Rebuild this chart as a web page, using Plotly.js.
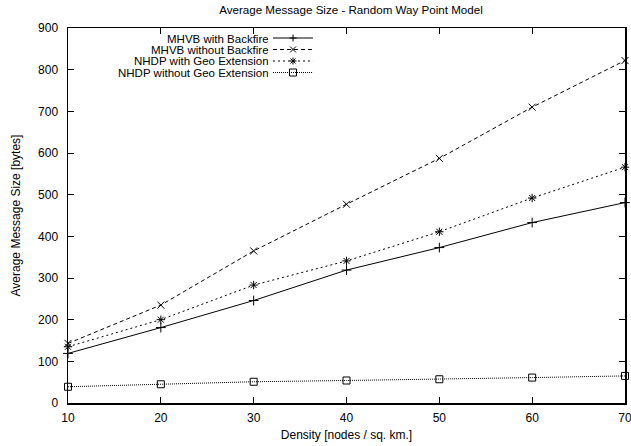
<!DOCTYPE html>
<html>
<head>
<meta charset="utf-8">
<script src="https://cdn.plot.ly/plotly-3.0.1.min.js"></script>
<style>html,body{margin:0;padding:0;background:#fff;}#chart{width:631px;height:446px;}</style>
</head>
<body>
<div id="chart"></div>
<script>
const density = [10, 20, 30, 40, 50, 60, 70];
const mhvbWithBackfire = [119, 181, 246, 319, 373, 433, 481];
const mhvbWithoutBackfire = [143, 235, 365, 477, 587, 710, 822];
const nhdpWithGeo = [135, 200, 283, 341, 411, 492, 566];
const nhdpWithoutGeo = [39, 45, 51, 54, 57, 61, 65];
const seriesNames = ["MHVB with Backfire", "MHVB without Backfire", "NHDP with Geo Extension", "NHDP without Geo Extension"];
const xTicks = [10, 20, 30, 40, 50, 60, 70];
const yTicks = [0, 100, 200, 300, 400, 500, 600, 700, 800, 900];

const FONT = "Liberation Sans, Arial, Helvetica, sans-serif";
const FS = 12;
const styles = [
  {dash: "solid", symbol: "cross-thin-open"},
  {dash: "4px,3px", symbol: "x-thin-open"},
  {dash: "2px,3px", symbol: "asterisk-open"},
  {dash: "1px,1px", symbol: "square-open"}
];
const series = [mhvbWithBackfire, mhvbWithoutBackfire, nhdpWithGeo, nhdpWithoutGeo];

const traces = series.map((vals, i) => ({
  x: density, y: vals, name: seriesNames[i], type: "scatter", mode: "lines+markers",
  line: {color: "#000", width: 1, dash: styles[i].dash},
  marker: {symbol: styles[i].symbol, size: 7, color: "#000", line: {color: "#000", width: 1}},
  showlegend: false, cliponaxis: false
}));

// Custom gnuplot-style key: text right-aligned, sample on the right
const keyTextX = 0.362, keyLineX0 = 0.368, keyLineX1 = 0.44, keyMarkX = 0.404;
const keyRowsY = [0.9733, 0.9427, 0.912, 0.8813];
const annotations = [];
const shapes = [];
seriesNames.forEach((nm, i) => {
  const y = keyRowsY[i];
  annotations.push({xref: "paper", yref: "paper", x: keyTextX, y: y, xanchor: "right", yanchor: "middle",
    text: nm, showarrow: false, font: {family: FONT, size: 11.5, color: "#000"}, borderpad: 0, height: 11});
  shapes.push({type: "line", xref: "paper", yref: "paper", x0: keyLineX0, x1: keyLineX1, y0: y, y1: y,
    line: {color: "#000", width: 1, dash: styles[i].dash}});
  const base = {xref: "paper", yref: "paper", xsizemode: "pixel", ysizemode: "pixel", xanchor: keyMarkX, yanchor: y,
    line: {color: "#000", width: 1}};
  if (i === 0) {
    shapes.push(Object.assign({type: "line", x0: -3.5, x1: 3.5, y0: 0, y1: 0}, base));
    shapes.push(Object.assign({type: "line", x0: 0, x1: 0, y0: -3.5, y1: 3.5}, base));
  } else if (i === 1) {
    shapes.push(Object.assign({type: "line", x0: -3, x1: 3, y0: -3, y1: 3}, base));
    shapes.push(Object.assign({type: "line", x0: -3, x1: 3, y0: 3, y1: -3}, base));
  } else if (i === 2) {
    shapes.push(Object.assign({type: "line", x0: -3.5, x1: 3.5, y0: 0, y1: 0}, base));
    shapes.push(Object.assign({type: "line", x0: 0, x1: 0, y0: -3.5, y1: 3.5}, base));
    shapes.push(Object.assign({type: "line", x0: -2.5, x1: 2.5, y0: -2.5, y1: 2.5}, base));
    shapes.push(Object.assign({type: "line", x0: -2.5, x1: 2.5, y0: 2.5, y1: -2.5}, base));
  } else {
    shapes.push(Object.assign({type: "rect", x0: -3.5, x1: 3.5, y0: -3.5, y1: 3.5, fillcolor: "rgba(0,0,0,0)"}, base));
  }
});

const axisCommon = {
  showline: true, linecolor: "#000", linewidth: 1.5, mirror: "allticks",
  ticks: "inside", ticklen: 6, tickwidth: 1, tickcolor: "#000",
  showgrid: false, zeroline: false, automargin: false, ticklabeloverflow: "allow",
  tickfont: {family: FONT, size: FS, color: "#000"}
};

const layout = {
  width: 631, height: 446,
  margin: {l: 68, r: 6, t: 28, b: 43},
  paper_bgcolor: "#fff", plot_bgcolor: "#fff",
  font: {family: FONT, size: FS, color: "#000"},
  title: {text: "Average Message Size - Random Way Point Model", font: {family: FONT, size: 11.6, color: "#000"},
    x: 0.508, xref: "paper", y: 0.978, yref: "container", xanchor: "center", yanchor: "middle"},
  xaxis: Object.assign({}, axisCommon, {range: [10, 70], tickvals: xTicks, ticktext: xTicks.map(String),
    ticklabelstandoff: 3,
    title: {text: "Density [nodes / sq. km.]", font: {family: FONT, size: FS, color: "#000"}, standoff: 6}}),
  yaxis: Object.assign({}, axisCommon, {range: [0, 900], tickvals: yTicks, ticktext: yTicks.map(String),
    ticklabelstandoff: 6,
    title: {text: "Average Message Size [bytes]", font: {family: FONT, size: FS, color: "#000"}, standoff: 15}}),
  annotations: annotations,
  shapes: shapes,
  showlegend: false
};

Plotly.newPlot("chart", traces, layout, {displayModeBar: false, staticPlot: true});
</script>
</body>
</html>
